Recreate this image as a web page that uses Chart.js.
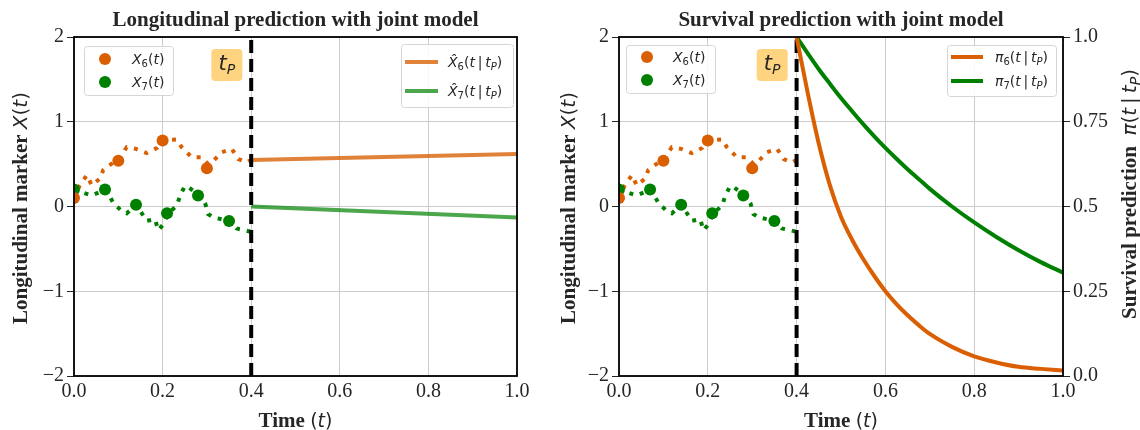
<!DOCTYPE html>
<html>
<head>
<meta charset="utf-8">
<title>Joint model prediction</title>
<script src="https://cdn.jsdelivr.net/npm/chart.js@4.4.0/dist/chart.umd.min.js"></script>
<style>
  body { margin: 0; background: #fff; }
  #wrap { position: relative; width: 1140px; height: 430px; }
  canvas { position: absolute; top: 0; }
</style>
</head>
<body>
<div id="wrap">
  <canvas id="chartLong" width="560" height="430" style="left:0"></canvas>
  <canvas id="chartSurv" width="580" height="430" style="left:560px"></canvas>
</div>
<script>
// ====== DATA ======
const tPred = 0.4;

// observed marker values (dots)
const obsTime6 = [0, 0.1, 0.2, 0.3];
const obsVal6  = [0.1, 0.54, 0.78, 0.45];
const obsTime7 = [0, 0.07, 0.14, 0.21, 0.28, 0.35];
const obsVal7  = [0.2, 0.2, 0.02, -0.08, 0.13, -0.17];

// underlying trajectories (dotted)
const pathTime6 = [0, 0.013, 0.029, 0.04, 0.059, 0.066, 0.089, 0.1, 0.119, 0.14, 0.164, 0.187, 0.2, 0.232, 0.243, 0.266, 0.288, 0.303, 0.315, 0.333, 0.356, 0.371, 0.39, 0.4];
const pathVal6  = [0.09, 0.25, 0.37, 0.25, 0.33, 0.43, 0.52, 0.55, 0.70, 0.68, 0.63, 0.69, 0.78, 0.79, 0.70, 0.58, 0.58, 0.50, 0.54, 0.64, 0.68, 0.56, 0.52, 0.55];
const pathTime7 = [0, 0.017, 0.04, 0.072, 0.089, 0.107, 0.119, 0.141, 0.164, 0.183, 0.19, 0.2, 0.213, 0.232, 0.239, 0.25, 0.258, 0.283, 0.296, 0.303, 0.315, 0.352, 0.367, 0.386, 0.4];
const pathVal7  = [0.2, 0.17, 0.13, 0.2, 0.04, -0.05, -0.08, 0.02, -0.17, -0.15, -0.28, -0.22, -0.08, 0.01, 0.12, 0.24, 0.23, 0.13, 0.04, -0.09, -0.13, -0.17, -0.26, -0.28, -0.3];

// longitudinal predictions after tP
const predTime = [0.4, 1.0];
const predVal6 = [0.55, 0.62];
const predVal7 = [0.0, -0.13];

// survival predictions
const survTime = [0.4, 0.425, 0.45, 0.475, 0.5, 0.525, 0.55, 0.575, 0.6, 0.625, 0.65, 0.675, 0.7, 0.75, 0.8, 0.85, 0.9, 0.95, 1.0];
const surv6 = [1.0, 0.835, 0.685, 0.5625, 0.47, 0.402, 0.345, 0.295, 0.25, 0.212, 0.179, 0.150, 0.124, 0.086, 0.058, 0.04, 0.027, 0.021, 0.016];
const surv7 = [1.0, 0.952, 0.905, 0.862, 0.82, 0.781, 0.743, 0.707, 0.673, 0.641, 0.61, 0.581, 0.552, 0.5, 0.453, 0.41, 0.371, 0.336, 0.305];

// tick labels
const timeTicks = ['0.0', '0.2', '0.4', '0.6', '0.8', '1.0'];
const markerTicks = ['\u22122', '\u22121', '0', '1', '2'];
const survTicks = ['0.0', '0.25', '0.5', '0.75', '1.0'];

// ====== STYLE ======
const COLORS = {
  orange: '#d95f02',
  green: '#008000',
  orangeSoft: 'rgba(217,95,2,0.78)',
  greenSoft: 'rgba(0,128,0,0.7)',
  grid: '#cccccc',
  ink: '#262626',
  tpBox: '#ffd480',
};
const SERIF = '"Liberation Serif", "Times New Roman", serif';
const MI = s => `italic ${s}px "DejaVu Sans"`;
const MR = s => `${s}px "DejaVu Sans"`;
const SB = s => `bold ${s}px ${SERIF}`;

function lbl(sym, k, cond) {
  const p = [[sym, MI(14)], [k, MR(10), 3], ['(', MR(14)], ['t', MI(14)]];
  if (cond) p.push(['\u2009|\u2009', MR(14)], ['t', MI(14)], ['P', MI(10), 3]);
  p.push([')', MR(14)]);
  return p;
}

function richText(ctx, parts, x, y, align) {
  let w = 0;
  parts.forEach(p => { ctx.font = p[1]; w += ctx.measureText(p[0]).width; });
  let cx = align === 'center' ? x - w / 2 : x;
  ctx.textAlign = 'left';
  parts.forEach(p => {
    ctx.font = p[1];
    ctx.fillText(p[0], cx, y + (p[2] || 0));
    cx += ctx.measureText(p[0]).width;
  });
}

function drawLegend(ctx, lg) {
  const [bx, by, bw, bh] = lg.box;
  ctx.save();
  ctx.fillStyle = 'rgba(255,255,255,0.85)';
  ctx.strokeStyle = '#d6d6d6';
  ctx.lineWidth = 1;
  ctx.beginPath();
  ctx.roundRect(bx + 0.5, by + 0.5, bw, bh, 3);
  ctx.fill();
  ctx.stroke();
  lg.rows.forEach((row, i) => {
    const y = lg.rowsY[i];
    if (lg.kind === 'dot') {
      ctx.fillStyle = row.color;
      ctx.beginPath();
      ctx.arc(lg.handle[0], y, 6, 0, Math.PI * 2);
      ctx.fill();
    } else {
      ctx.strokeStyle = row.color;
      ctx.lineWidth = 4;
      ctx.beginPath();
      ctx.moveTo(lg.handle[0], y);
      ctx.lineTo(lg.handle[1], y);
      ctx.stroke();
    }
    ctx.fillStyle = COLORS.ink;
    richText(ctx, row.parts, lg.textX, y + 5, 'left');
  });
  ctx.restore();
}

// frame, titles, tP box, legends
const decorPlugin = {
  id: 'decor',
  afterDatasetsDraw(chart) {
    const { ctx, chartArea: a } = chart;
    ctx.save();
    ctx.strokeStyle = '#000';
    ctx.lineWidth = 1.8;
    ctx.strokeRect(a.left, a.top, a.right - a.left, a.bottom - a.top);
    ctx.restore();
  },
  afterDraw(chart, args, opts) {
    const { ctx, chartArea: a, scales } = chart;
    const cx = (a.left + a.right) / 2;
    ctx.save();
    ctx.fillStyle = COLORS.ink;
    ctx.textBaseline = 'alphabetic';
    richText(ctx, [[opts.title, SB(21)]], cx, 26, 'center');
    richText(ctx, opts.xTitle, cx, 427, 'center');
    opts.yTitles.forEach(t => {
      ctx.save();
      ctx.translate(t.x, t.y);
      ctx.rotate(-Math.PI / 2);
      richText(ctx, t.parts, 0, 0, 'center');
      ctx.restore();
    });
    // tP badge
    const px = scales.x.getPixelForValue(opts.badge.x);
    const py = scales.y.getPixelForValue(opts.badge.y);
    ctx.fillStyle = COLORS.tpBox;
    ctx.beginPath();
    ctx.roundRect(px - 15.5, py - 16, 31, 32, 4);
    ctx.fill();
    ctx.fillStyle = COLORS.ink;
    richText(ctx, [['t', MI(21)], ['P', MI(14), 4]], px, py + 5, 'center');
    ctx.restore();
    opts.legends.forEach(lg => drawLegend(ctx, lg));
  }
};

// ====== HELPERS ======
const pts = (xs, ys) => xs.map((x, i) => ({ x, y: ys[i] }));
const tickFont = { family: SERIF, size: 20 };

function xScale() {
  return {
    type: 'linear', position: 'bottom', min: 0, max: 1,
    ticks: { stepSize: 0.2, padding: 4, color: COLORS.ink, font: tickFont, maxRotation: 0, autoSkip: false,
             callback: (v, i) => timeTicks[i] },
    grid: { color: COLORS.grid, lineWidth: 1, drawTicks: false },
    border: { display: false },
    afterFit: s => { s.height = 54; s.paddingLeft = 0; s.paddingRight = 0; }
  };
}

function yScale(width) {
  return {
    type: 'linear', position: 'left', min: -2, max: 2,
    ticks: { stepSize: 1, padding: 3, color: COLORS.ink, font: tickFont, callback: (v, i) => markerTicks[i] },
    grid: { color: COLORS.grid, lineWidth: 1, tickColor: COLORS.ink, tickLength: 7 },
    border: { display: false },
    afterFit: s => { s.width = width; s.paddingTop = 0; s.paddingBottom = 0; }
  };
}

function commonDatasets() {
  return [
    { data: pts(pathTime6, pathVal6), borderColor: COLORS.orange, borderWidth: 4, borderDash: [4, 7], pointRadius: 0, order: 3 },
    { data: pts(pathTime7, pathVal7), borderColor: COLORS.green, borderWidth: 4, borderDash: [4, 7], pointRadius: 0, order: 3 },
    { data: pts(obsTime6, obsVal6), showLine: false, pointRadius: 6, pointBorderWidth: 0, pointBackgroundColor: COLORS.orange, order: 1 },
    { data: pts(obsTime7, obsVal7), showLine: false, pointRadius: 6, pointBorderWidth: 0, pointBackgroundColor: COLORS.green, order: 1 },
    { data: [{ x: tPred, y: -2 }, { x: tPred, y: 2 }], borderColor: '#000', borderWidth: 4, borderDash: [13, 6], pointRadius: 0, order: 0 },
  ];
}

const obsLegendRows = [
  { color: COLORS.orange, parts: lbl('X', '6', false) },
  { color: COLORS.green, parts: lbl('X', '7', false) },
];
const xTitleParts = [['Time ', SB(21)], ['(', MR(19)], ['t', MI(19)], [')', MR(19)]];
const yTitleParts = [['Longitudinal marker ', SB(21)], ['X', MI(20)], ['(', MR(20)], ['t', MI(20)], [')', MR(20)]];

// ====== LONGITUDINAL CHART ======
new Chart(document.getElementById('chartLong'), {
  type: 'line',
  data: {
    datasets: commonDatasets().concat([
      { data: pts(predTime, predVal6), borderColor: COLORS.orangeSoft, borderWidth: 4, pointRadius: 0, order: 2 },
      { data: pts(predTime, predVal7), borderColor: COLORS.greenSoft, borderWidth: 4, pointRadius: 0, order: 2 },
    ])
  },
  options: {
    responsive: false,
    animation: false,
    devicePixelRatio: 1,
    events: [],
    layout: { padding: { left: 0, top: 37, right: 43, bottom: 0 } },
    scales: { x: xScale(), y: yScale(74) },
    plugins: {
      legend: { display: false },
      tooltip: { enabled: false },
      decor: {
        title: 'Longitudinal prediction with joint model',
        xTitle: xTitleParts,
        yTitles: [{ x: 27, y: 208, parts: yTitleParts }],
        badge: { x: 0.345, y: 1.67 },
        legends: [
          { kind: 'dot', box: [84, 46, 89, 49], handle: [105], textX: 132, rowsY: [59, 82], rows: obsLegendRows },
          { kind: 'line', box: [401, 44, 112, 63], handle: [405, 438], textX: 448, rowsY: [62, 91], rows: [
            { color: COLORS.orangeSoft, parts: lbl('X\u0302', '6', true) },
            { color: COLORS.greenSoft, parts: lbl('X\u0302', '7', true) },
          ] },
        ]
      }
    }
  },
  plugins: [decorPlugin]
});

// ====== SURVIVAL CHART ======
new Chart(document.getElementById('chartSurv'), {
  type: 'line',
  data: {
    datasets: commonDatasets().concat([
      { data: pts(survTime, surv6), yAxisID: 'y2', borderColor: COLORS.orange, borderWidth: 4, pointRadius: 0, cubicInterpolationMode: 'monotone', order: -1 },
      { data: pts(survTime, surv7), yAxisID: 'y2', borderColor: COLORS.green, borderWidth: 4, pointRadius: 0, cubicInterpolationMode: 'monotone', order: -1 },
    ])
  },
  options: {
    responsive: false,
    animation: false,
    devicePixelRatio: 1,
    events: [],
    layout: { padding: { left: 0, top: 37, right: 0, bottom: 0 } },
    scales: {
      x: xScale(),
      y: yScale(59),
      y2: {
        type: 'linear', position: 'right', min: 0, max: 1,
        ticks: { stepSize: 0.25, padding: 3, color: COLORS.ink, font: tickFont, callback: (v, i) => survTicks[i] },
        grid: { drawOnChartArea: false, tickColor: COLORS.ink, tickLength: 7 },
        border: { display: false },
        afterFit: s => { s.width = 77; s.paddingTop = 0; s.paddingBottom = 0; }
      }
    },
    plugins: {
      legend: { display: false },
      tooltip: { enabled: false },
      decor: {
        title: 'Survival prediction with joint model',
        xTitle: xTitleParts,
        yTitles: [
          { x: 15, y: 208, parts: yTitleParts },
          { x: 576, y: 194, parts: [['Survival prediction  ', SB(21)], ['\u03c0', MI(20)], ['(', MR(20)], ['t', MI(20)], ['\u2009|\u2009', MR(20)], ['t', MI(20)], ['P', MI(14), 4], [')', MR(20)]] },
        ],
        badge: { x: 0.345, y: 1.67 },
        legends: [
          { kind: 'dot', box: [66, 45, 89, 48], handle: [87], textX: 113, rowsY: [57, 80], rows: obsLegendRows },
          { kind: 'line', box: [387, 45, 109, 51], handle: [391, 423], textX: 435, rowsY: [57, 81], rows: [
            { color: COLORS.orange, parts: lbl('\u03c0', '6', true) },
            { color: COLORS.green, parts: lbl('\u03c0', '7', true) },
          ] },
        ]
      }
    }
  },
  plugins: [decorPlugin]
});
</script>
</body>
</html>
